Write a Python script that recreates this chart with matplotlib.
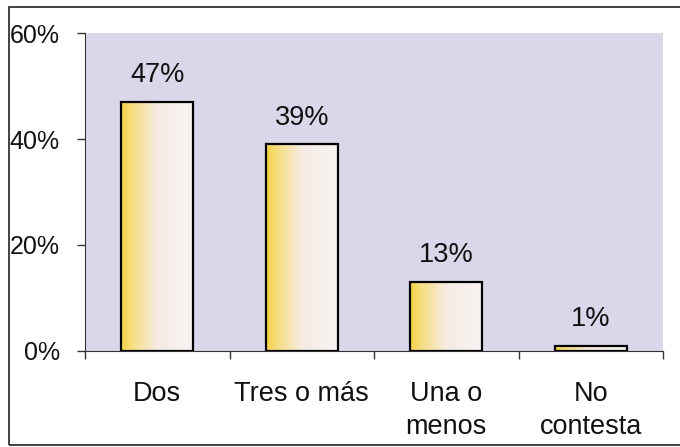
import matplotlib
matplotlib.use('Agg')
import matplotlib.pyplot as plt
import numpy as np
from matplotlib.colors import LinearSegmentedColormap
from matplotlib.patches import Rectangle

categories = ["Dos", "Tres o más", "Una o\nmenos", "No\ncontesta"]
values = [47, 39, 13, 1]
value_labels = ["47%", "39%", "13%", "1%"]
y_ticks = [0, 20, 40, 60]
y_tick_labels = ["0%", "20%", "40%", "60%"]

plt.rcParams['font.family'] = ['Liberation Sans', 'DejaVu Sans']
FS = 19.5

fig = plt.figure(figsize=(6.8, 4.47), dpi=100)
fig.patch.set_facecolor('white')
ax = fig.add_axes([0.125, 0.215, 0.85, 0.711])
ax.set_facecolor('#dbd7ea')

# outer frame of the scanned chart
frame = Rectangle((9 / 680, 2 / 447), 1.02, 438 / 447, transform=fig.transFigure,
                  fill=False, edgecolor='#222222', linewidth=1.2, clip_on=False)
fig.patches.append(frame)

x = np.arange(len(categories))
bars = ax.bar(x, values, width=0.5, facecolor='none', edgecolor='black',
              linewidth=1.6, zorder=3)

cmap = LinearSegmentedColormap.from_list(
    'bar', [(0.0, '#f5d243'), (0.15, '#f7de80'), (0.5, '#f5ebe4'), (1.0, '#f8f4f4')])
grad = np.linspace(0, 1, 256).reshape(1, -1)
for b in bars:
    bx, by = b.get_x(), b.get_y()
    w, h = b.get_width(), b.get_height()
    im = ax.imshow(grad, cmap=cmap, aspect='auto', extent=(bx, bx + w, by, by + h),
                   zorder=2, interpolation='bicubic')
    im.set_clip_path(b)

for xi, v, lab in zip(x, values, value_labels):
    ax.text(xi, v + 2.6, lab, ha='center', va='bottom', fontsize=FS, color='#111111')

ax.set_xlim(-0.5, len(categories) - 0.5)
ax.set_ylim(0, 60)
ax.set_yticks(y_ticks)
ax.set_yticklabels(y_tick_labels, fontsize=18, color='#111111')
ax.set_xticks(x)
ax.set_xticklabels(categories, fontsize=FS, linespacing=1.35, color='#111111')
ax.set_xticks(np.arange(len(categories) + 1) - 0.5, minor=True)
ax.tick_params(axis='x', which='major', length=0, pad=22)
ax.tick_params(axis='x', which='minor', length=6, width=1, direction='out', color='#333333')
ax.tick_params(axis='y', length=6, width=1, pad=12, color='#333333')

for side in ['top', 'right']:
    ax.spines[side].set_visible(False)
ax.spines['left'].set_color('#333333')
ax.spines['bottom'].set_color('#333333')

fig.savefig('out.png', dpi=100, facecolor=fig.get_facecolor())
